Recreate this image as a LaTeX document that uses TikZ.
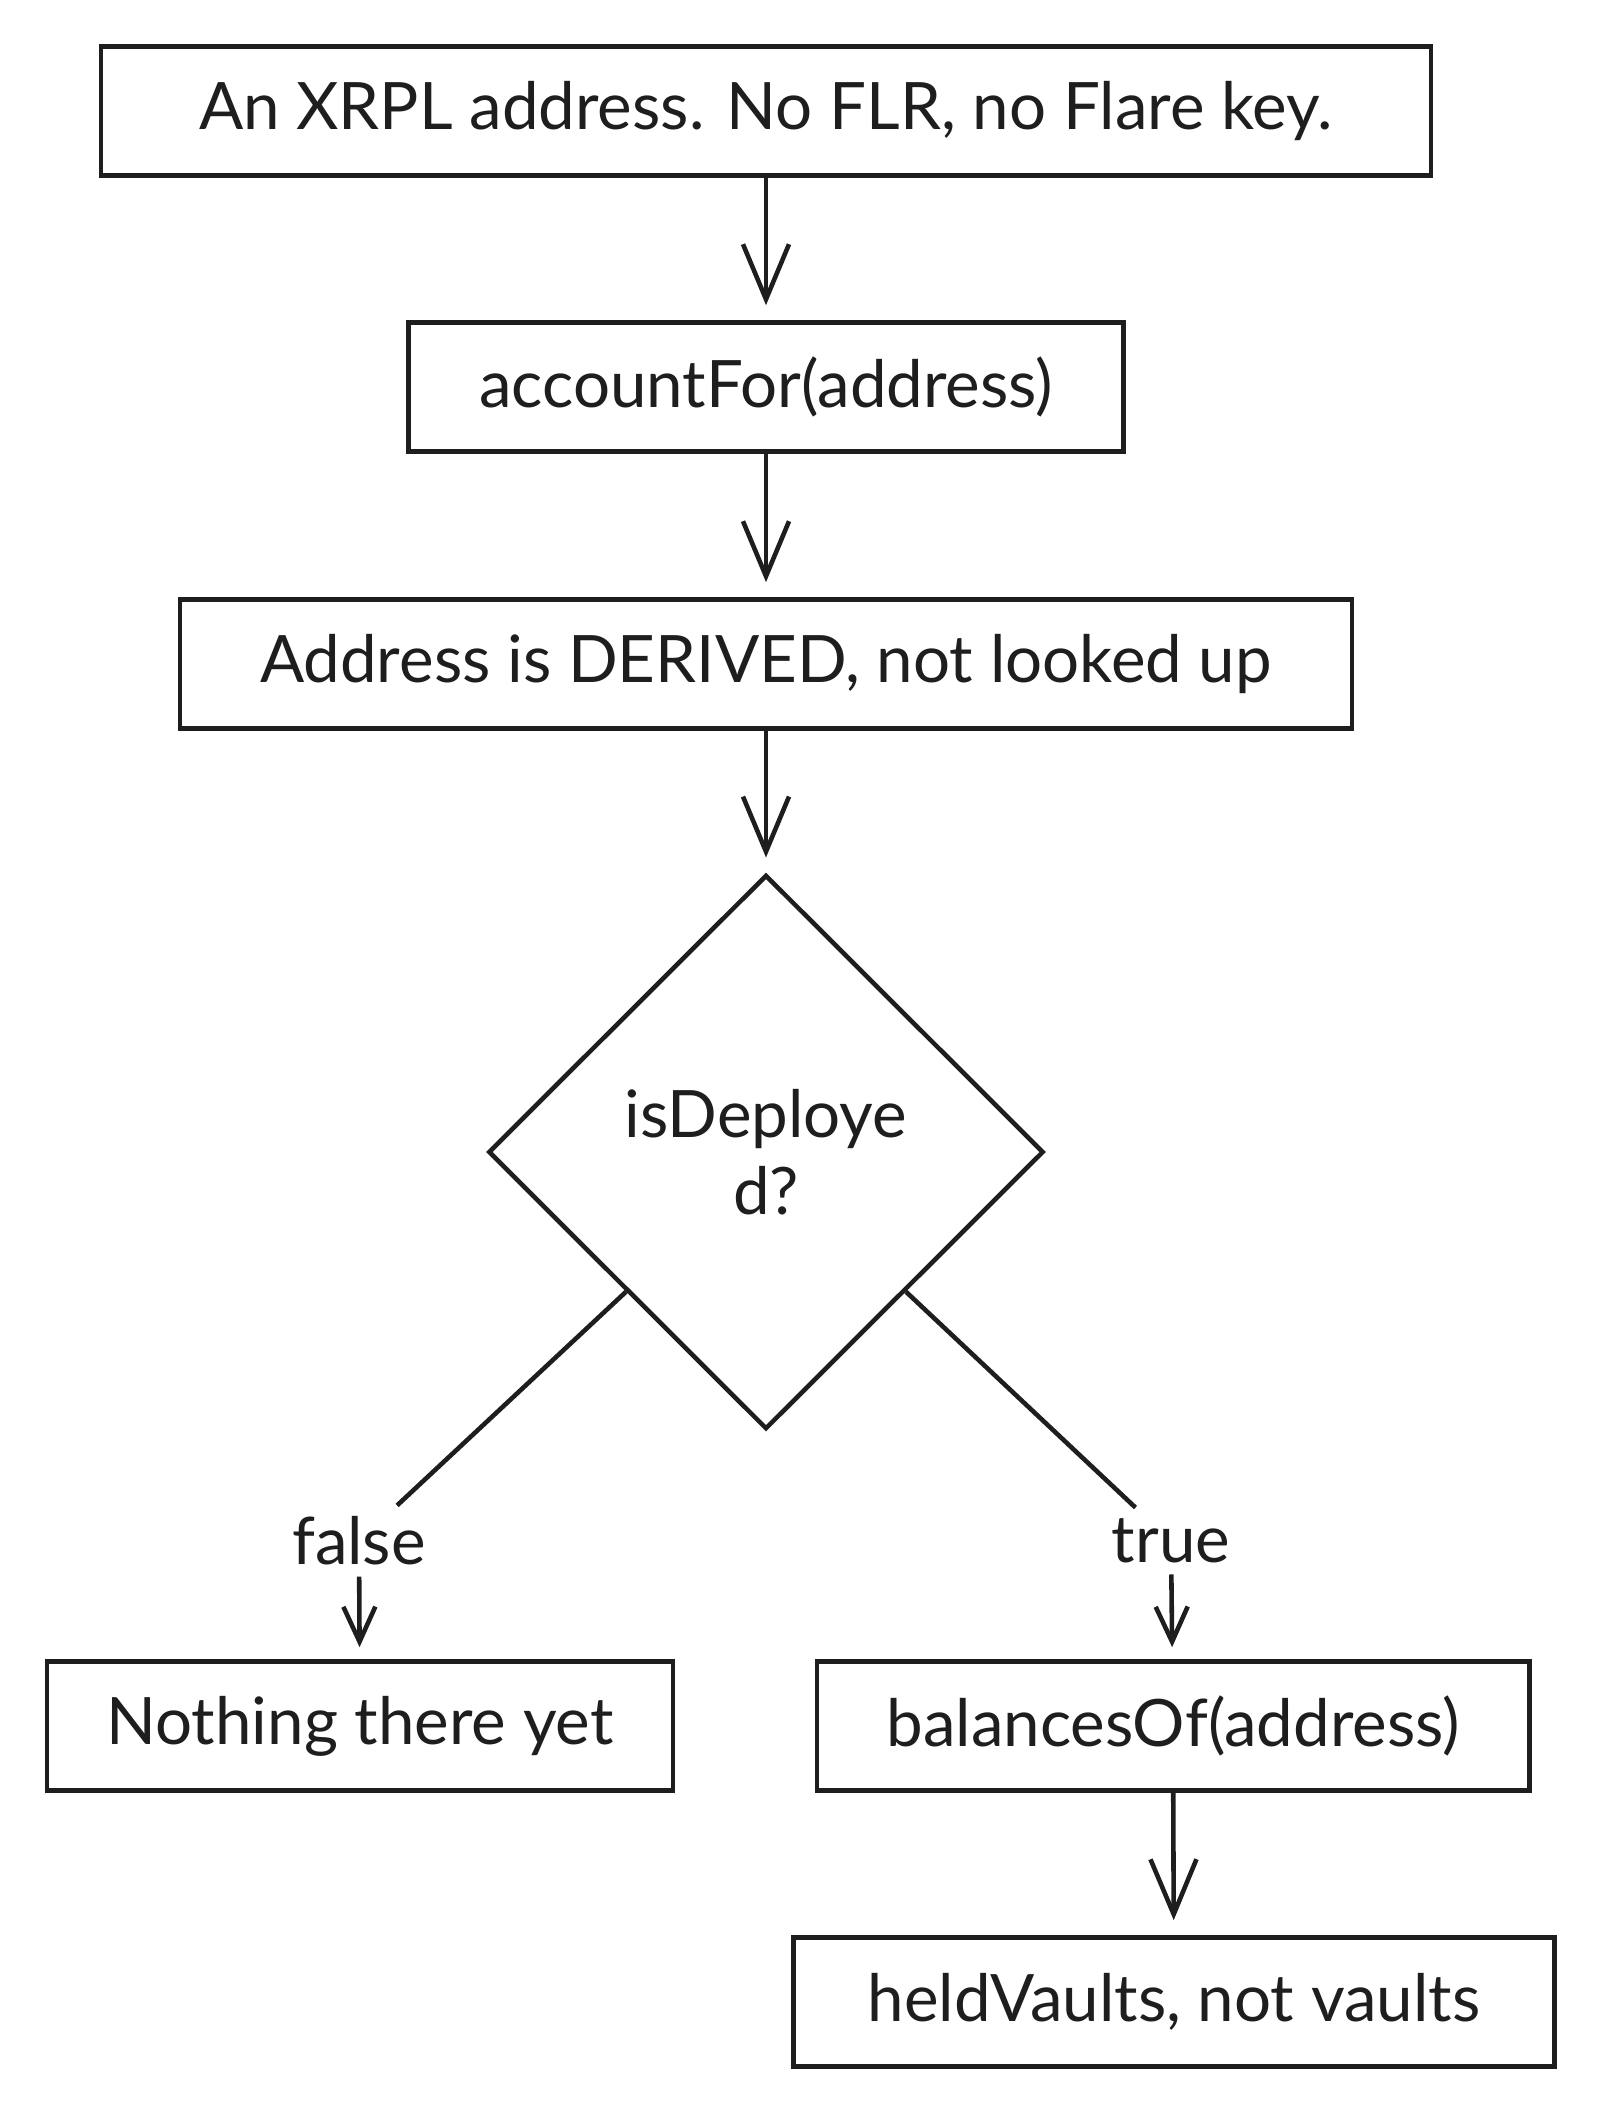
\documentclass[tikz,border=0pt]{standalone}
\usepackage{fontspec}
\setmainfont{Lato}
\usetikzlibrary{shapes.geometric,arrows.meta}
\definecolor{ink}{HTML}{1E1E1E}
\tikzset{
  stepbox/.style = {draw=ink, line width=1.3pt, align=center, minimum height=1.29cm, text=ink, font=\fontsize{18.6}{22}\selectfont},
  decision/.style = {diamond, draw=ink, line width=1.3pt, align=center, minimum width=5.55cm, minimum height=5.54cm, inner sep=0pt, text=ink, font=\fontsize{18.6}{22}\selectfont},
  branchlabel/.style = {inner sep=3pt, text=ink, font=\fontsize{18.6}{22}\selectfont},
  flow/.style = {draw=ink, line width=1.3pt, shorten >=1.5mm, -{Straight Barb[length=5.5mm, width=4.6mm, line width=1.3pt]}},
  shortflow/.style = {draw=ink, line width=1.3pt, shorten >=1.2mm, -{Straight Barb[length=3.5mm, width=3.2mm, line width=1.3pt]}},
  branch/.style = {draw=ink, line width=1.3pt}
}

\begin{document}
\begin{tikzpicture}[x=0.01cm, y=-0.01cm]
  \useasboundingbox[fill=white] (0,0) rectangle (1600,2114);

  % main column
  \node [stepbox, minimum width=13.29cm] (xrpl) at (766,111) {An XRPL address. No FLR, no Flare key.};
  \node [stepbox, minimum width=7.15cm] (acct) at (766,387) {accountFor(address)};
  \node [stepbox, minimum width=11.71cm] (derived) at (766,664) {Address is DERIVED, not looked up};
  \node [decision] (deployed) at (766,1152) {isDeploye\\d?};

  % branches
  \node [branchlabel] (falselbl) at (359,1541) {false};
  \node [branchlabel] (truelbl) at (1171,1541) {true};
  \node [stepbox, minimum width=6.26cm] (nothing) at (360,1726) {Nothing there yet};
  \node [stepbox, minimum width=7.12cm] (balances) at (1173,1726) {balancesOf(address)};
  \node [stepbox, minimum width=7.61cm] (held) at (1174,2002) {heldVaults, not vaults};

  \draw [flow] (xrpl) -- (acct);
  \draw [flow] (acct) -- (derived);
  \draw [flow] (derived) -- (deployed);
  \draw [branch] (deployed.south west) -- (falselbl);
  \draw [shortflow] (falselbl) -- (nothing);
  \draw [branch] (deployed.south east) -- (truelbl);
  \draw [shortflow] (truelbl) -- (balances);
  \draw [flow] (balances) -- (held);
\end{tikzpicture}
\end{document}
